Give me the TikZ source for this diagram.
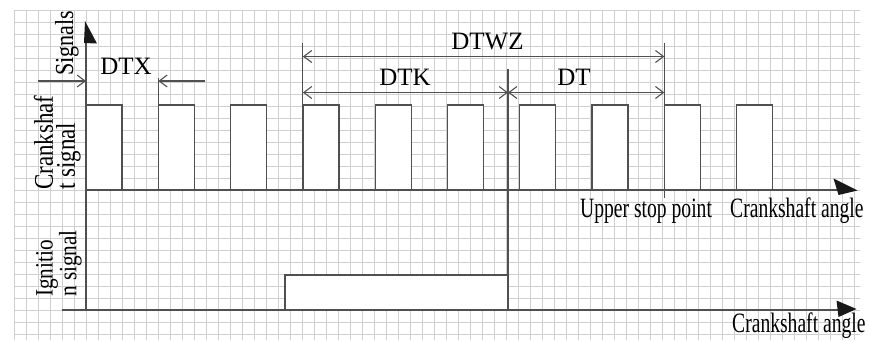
\documentclass[tikz,border=0pt]{standalone}
\usepackage{fontspec}
\setmainfont{Liberation Serif}
\newfontfamily\condA{Liberation Serif}[FakeStretch=0.85]
\newfontfamily\condB{Liberation Serif}[FakeStretch=0.7]
\usetikzlibrary{arrows.meta}
\definecolor{ink}{RGB}{80,80,80}
\definecolor{gridc}{RGB}{208,208,208}
\begin{document}
\begin{tikzpicture}[x=1pt,y=-1pt,
  sig/.style={draw=ink,line width=1.3pt,fill=white},
  axisline/.style={draw=ink,line width=1.3pt},
  dimline/.style={draw=ink,line width=1.1pt},
  barb/.tip={Straight Barb[length=8pt,width=12pt]},
  dimboth/.style={dimline,barb-barb},
  dimone/.style={dimline,-barb},
  headfill/.style={fill=black!90},
  dlabel/.style={inner sep=0pt,font=\fontsize{25}{25}\selectfont},
  ylabel/.style={inner sep=0pt,rotate=90,align=left},
  xlabel/.style={inner sep=0pt,anchor=base west,font=\condB\fontsize{28}{28}\selectfont}]
\useasboundingbox (0,0) rectangle (869,340);
\clip (0,0) rectangle (869,340);
\fill[white] (0,0) rectangle (869,340);
% grid
\foreach \gx in {0,...,70} \draw[gridc,line width=0.6pt] ({14+12*\gx},10) -- ({14+12*\gx},340);
\foreach \gy in {0,...,27} \draw[gridc,line width=0.6pt] (14,{10+12*\gy}) -- (860,{10+12*\gy});
% key coordinates
\coordinate (O) at (86,310);
\coordinate (Ytop) at (86,40);
\coordinate (C0) at (86,190);
\coordinate (Cend) at (842,190);
\coordinate (I0) at (62,310);
\coordinate (Iend) at (842,310);
\coordinate (P4) at (302.9,105);
\coordinate (P9) at (664.4,105);
% crankshaft pulses
\foreach \i in {0,...,9} \draw[sig] ({86+72.3*\i},190) rectangle ++(36,-85);
% ignition pulse
\draw[sig] (285,310) rectangle (508,275);
% axes
\draw[axisline] (O) -- (Ytop);
\draw[axisline] (C0) -- (Cend);
\draw[axisline] (I0) -- (Iend);
\fill[headfill] (85,21) -- (84,43) -- (97,43.5) -- cycle;
\fill[headfill] (833.5,178.5) -- (857.5,190.5) -- (838.5,195) -- cycle;
\fill[headfill] (836.5,300.5) -- (856.5,309) -- (838.5,317) -- cycle;
% TDC line
\coordinate (Ttop) at (508,69);
\coordinate (Tbot) at (508,310);
\draw[axisline] (Ttop) -- (Tbot);
% extension lines
\coordinate (E4) at (302.9,43);
\coordinate (E9) at (664.4,43);
\coordinate (E9b) at (664.4,198);
\coordinate (X2t) at (158.3,78);
\coordinate (X2b) at (158.3,105);
\draw[dimline] (E4) -- (P4);
\draw[dimline] (E9) -- (E9b);
\draw[dimline] (X2t) -- (X2b);
% dimension arrows
\coordinate (WZl) at (302.9,56.5);
\coordinate (WZr) at (664.4,56.5);
\coordinate (Kl) at (302.9,92.5);
\coordinate (Km) at (508,92.5);
\coordinate (Kr) at (664.4,92.5);
\coordinate (Xa) at (38,81);
\coordinate (Xb) at (86,81);
\coordinate (Xc) at (158.3,81);
\coordinate (Xd) at (205,81);
\draw[dimboth] (WZl) -- (WZr);
\draw[dimboth] (Kl) -- (Km);
\draw[dimboth] (Km) -- (Kr);
\draw[dimone] (Xa) -- (Xb);
\draw[dimone] (Xd) -- (Xc);
% labels
\node[dlabel] (lwz) at (487.5,41.5) {DTWZ};
\node[dlabel] (lk) at (405,77.5) {DTK};
\node[dlabel] (lt) at (574,77.5) {DT};
\node[dlabel] (lx) at (126,66.5) {DTX};
\node[ylabel,font=\condA\fontsize{26}{26}\selectfont] (lsig) at (67,43) {Signals};
\node[ylabel,anchor=south west,font=\condA\fontsize{27}{22}\selectfont] (lcr) at (81,190) {Crankshaf\\t signal};
\node[ylabel,anchor=south west,font=\condA\fontsize{25}{22}\selectfont] (lig) at (82,297) {Ignitio\\n signal};
\node[xlabel] (lup) at (580,217) {Upper stop point};
\node[xlabel] (lca1) at (730,217) {Crankshaft angle};
\node[xlabel] (lca2) at (732,332) {Crankshaft angle};
\end{tikzpicture}
\end{document}
